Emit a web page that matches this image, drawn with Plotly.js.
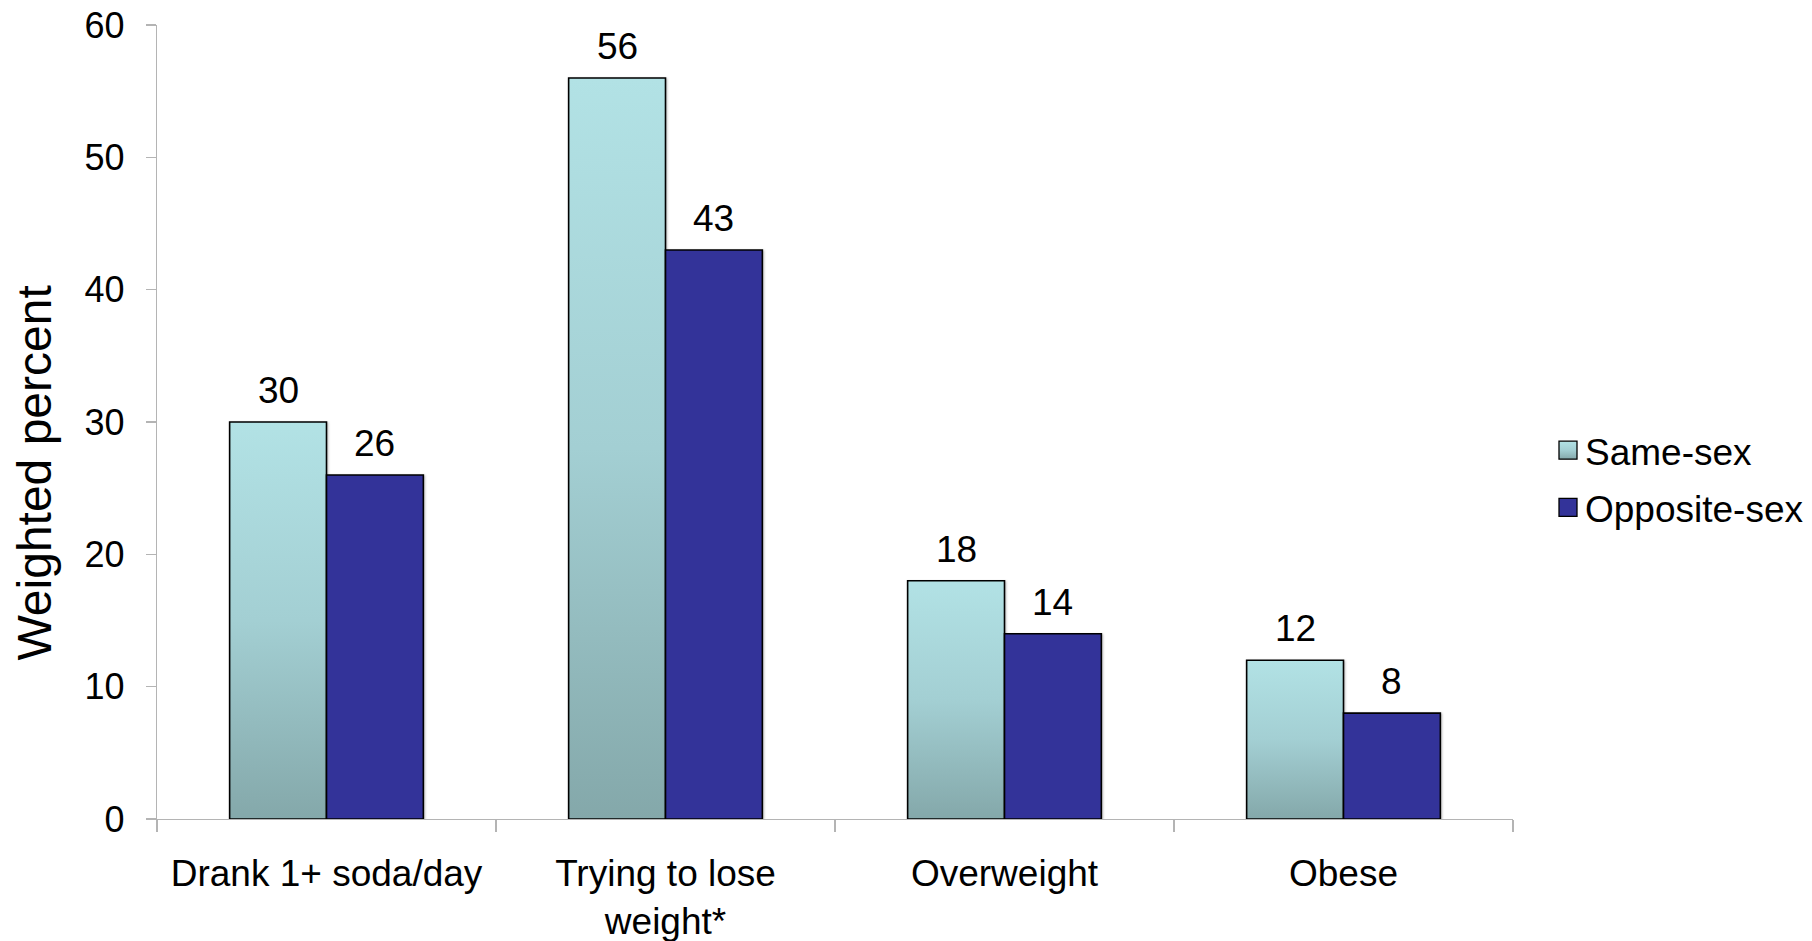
<!DOCTYPE html>
<html>
<head>
<meta charset="utf-8">
<script src="https://cdn.plot.ly/plotly-3.0.1.min.js"></script>
<style>
  html, body { margin: 0; padding: 0; background: #ffffff; }
  #chart { width: 1812px; height: 941px; }
</style>
</head>
<body>
<div id="chart"></div>
<script>
// Categories and weighted percentages for each group
const categories = ['Drank 1+ soda/day', 'Trying to lose<br>weight*', 'Overweight', 'Obese'];
const sameSex = [30, 56, 18, 12];
const oppositeSex = [26, 43, 14, 8];
const seriesNames = ['Same-sex', 'Opposite-sex'];
const yTicks = [0, 10, 20, 30, 40, 50, 60];
const yTitle = 'Weighted percent';

const W = 1812, H = 941;
const margin = { l: 157, r: 299, t: 25, b: 122, pad: 0, autoexpand: false };
const bargap = 1.5 / 3.5;
const font = 'Liberation Sans, Arial, Helvetica, sans-serif';

const traces = [
  {
    type: 'bar', name: seriesNames[0], x: categories, y: sameSex,
    legendgroup: 'a',
    marker: { color: '#9dcdd1', line: { color: '#000000', width: 1.6 } },
    hoverinfo: 'none'
  },
  {
    type: 'bar', name: seriesNames[1], x: categories, y: oppositeSex,
    legendgroup: 'b',
    marker: { color: '#333399', line: { color: '#000000', width: 1.6 } },
    hoverinfo: 'none'
  }
];

// Value labels centred over each bar of the pair
const plotW = W - margin.l - margin.r;
const plotH = H - margin.t - margin.b;
const halfBar = plotW / categories.length * (1 - bargap) / 4;
const annotations = [];
categories.forEach((c, i) => {
  [[sameSex, -halfBar], [oppositeSex, halfBar]].forEach(([vals, dx]) => {
    annotations.push({
      x: i, y: vals[i], xref: 'x', yref: 'y',
      text: String(vals[i]), showarrow: false,
      xanchor: 'center', yanchor: 'bottom',
      xshift: dx, yshift: 9,
      font: { family: font, size: 37, color: '#000000' }
    });
  });
});

// Vertical axis title, set a little below the middle of the axis
annotations.push({
  text: yTitle, xref: 'paper', yref: 'paper',
  x: (35 - margin.l) / plotW, y: 0.435,
  xanchor: 'center', yanchor: 'middle',
  textangle: -90, showarrow: false,
  font: { family: font, size: 48, color: '#000000' }
});

const layout = {
  width: W, height: H,
  margin: margin,
  paper_bgcolor: '#ffffff', plot_bgcolor: '#ffffff',
  font: { family: font, size: 37, color: '#000000' },
  barmode: 'group', bargap: bargap, bargroupgap: 0,
  showlegend: true,
  legend: {
    x: (1545 - margin.l) / plotW, xanchor: 'left',
    y: 0.428, yanchor: 'middle',
    font: { family: font, size: 37, color: '#000000' },
    traceorder: 'grouped', tracegroupgap: 6,
    bgcolor: 'rgba(0,0,0,0)', borderwidth: 0
  },
  xaxis: {
    type: 'category', automargin: false,
    showline: true, linecolor: '#b4b4b4', linewidth: 1.3,
    ticks: 'outside', tickson: 'boundaries', ticklen: 12, tickcolor: '#b4b4b4', tickwidth: 1.3,
    ticklabelstandoff: 21,
    showgrid: false, zeroline: false,
    tickfont: { family: font, size: 37, color: '#000000' }
  },
  yaxis: {
    range: [0, 60], automargin: false,
    tickvals: yTicks, ticktext: yTicks.map(String),
    showline: true, linecolor: '#b4b4b4', linewidth: 1.3,
    ticks: 'outside', ticklen: 10, tickcolor: '#b4b4b4', tickwidth: 1.3,
    ticklabelstandoff: 14,
    showgrid: false, zeroline: false,
    tickfont: { family: font, size: 36, color: '#000000' }
  },
  annotations: annotations
};

const SVGNS = 'http://www.w3.org/2000/svg';

// Vertical gradient for the Same-sex bars, and square legend swatches set just before their text
function applyStyling(gd) {
  const svg = gd.querySelector('.main-svg');
  let defs = svg.querySelector('defs');
  if (!defs) { defs = document.createElementNS(SVGNS, 'defs'); svg.insertBefore(defs, svg.firstChild); }
  if (!svg.querySelector('#sameSexFill')) {
    const g = document.createElementNS(SVGNS, 'linearGradient');
    g.setAttribute('id', 'sameSexFill');
    g.setAttribute('x1', '0'); g.setAttribute('y1', '0');
    g.setAttribute('x2', '0'); g.setAttribute('y2', '1');
    [['0', '#b2e2e5'], ['0.5', '#a3cfd3'], ['1', '#84a8aa']].forEach(([o, c]) => {
      const s = document.createElementNS(SVGNS, 'stop');
      s.setAttribute('offset', o); s.setAttribute('stop-color', c);
      g.appendChild(s);
    });
    defs.appendChild(g);
  }
  const barTraces = gd.querySelectorAll('.barlayer .trace');
  if (barTraces[0]) barTraces[0].querySelectorAll('path').forEach(p => { p.style.fill = 'url(#sameSexFill)'; });
  barTraces.forEach(t => t.querySelectorAll('path').forEach(p => {
    p.style.filter = 'drop-shadow(1.5px 1.5px 1px rgba(0,0,0,0.25))';
  }));
  const legendItems = gd.querySelectorAll('.legend .traces');
  legendItems.forEach((item, i) => {
    const p = item.querySelector('.legendpoints path');
    const txt = item.querySelector('text.legendtext');
    if (!p || !txt) return;
    p.removeAttribute('transform');
    const ctm = p.parentNode.getScreenCTM();
    const tr = txt.getBoundingClientRect();
    const right = (tr.left - 8 - ctm.e) / ctm.a;
    const half = 9;
    p.setAttribute('d', `M${right},${half}H${right - 2 * half}V${-half}H${right}Z`);
    p.style.strokeWidth = '1.3px';
    p.style.stroke = '#000000';
    if (i === 0) p.style.fill = 'url(#sameSexFill)';
  });
}

const gd = document.getElementById('chart');
Plotly.newPlot(gd, traces, layout, { displayModeBar: false, staticPlot: true }).then(() => {
  applyStyling(gd);
  gd.on('plotly_afterplot', () => applyStyling(gd));
});
</script>
</body>
</html>
